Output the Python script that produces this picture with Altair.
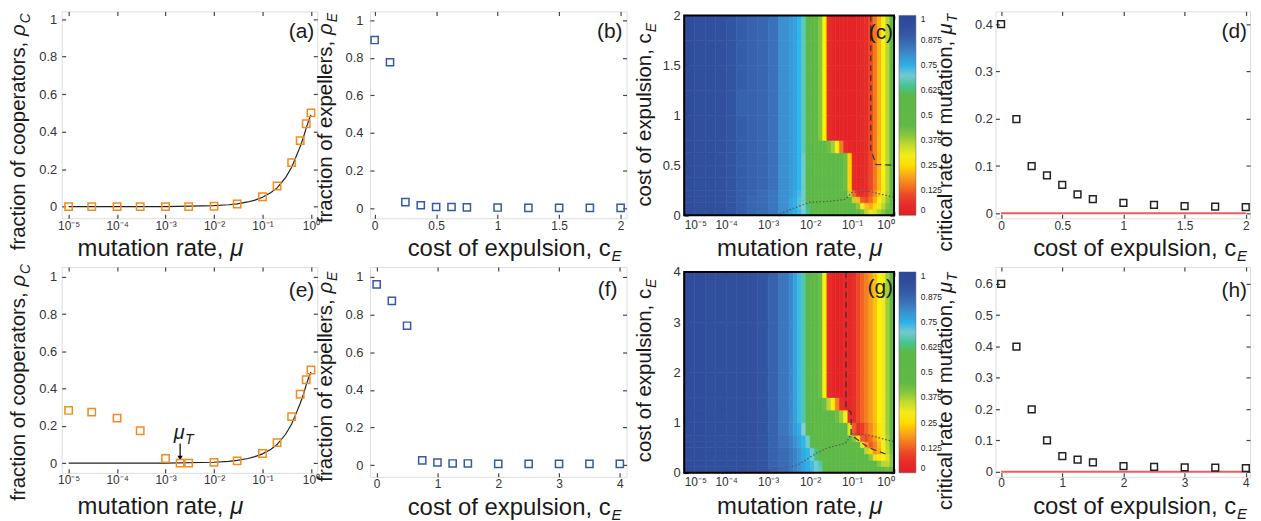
import altair as alt
import pandas as pd

FONT = "Liberation Sans"
ORANGE = "#f58a1f"
BLUE = "#3558a8"
BLACK = "#222222"
RED = "#ef5b5f"
TXT = "#1a1a1a"

# ---------------- data: panels (a) and (e) ----------------
MU_A = [1e-5, 3e-5, 1e-4, 3e-4, 1e-3, 3e-3, 1e-2, 3e-2, 0.1, 0.2, 0.4, 0.6, 0.8, 1.0]
RHO_A = [0.0, 0.0, 0.0, 0.0, 0.0, 0.0, 0.002, 0.014, 0.053, 0.11, 0.235, 0.352, 0.442, 0.5]
MU_E = [1e-5, 3e-5, 1e-4, 3e-4, 1e-3, 2e-3, 3e-3, 1e-2, 3e-2, 0.1, 0.2, 0.4, 0.6, 0.8, 1.0]
RHO_E = [0.283, 0.274, 0.242, 0.174, 0.025, 0.0, 0.0, 0.004, 0.012, 0.052, 0.11, 0.25, 0.37, 0.448, 0.5]
CURVE_MU = [1e-5, 1e-4, 1e-3, 1e-2, 2e-2, 3e-2, 5e-2, 7e-2, 0.1, 0.15, 0.2, 0.3, 0.4, 0.5, 0.6, 0.7, 0.8, 0.9, 1.0]
CURVE_RHO = [0.0, 0.0, 0.0005, 0.005, 0.01, 0.015, 0.025, 0.035, 0.05, 0.075, 0.1, 0.155, 0.21, 0.27, 0.32, 0.37, 0.42, 0.46, 0.49]
ANNOT_MU = [2e-3]
ANNOT_ARROW_Y0 = [0.105]
ANNOT_ARROW_Y1 = [0.03]
ANNOT_HEAD_Y = [0.027]
ANNOT_TEXT_Y = [0.13]

# ---------------- data: panels (b), (f), (d), (h) ----------------
CE_2 = [0, 0.125, 0.25, 0.375, 0.5, 0.625, 0.75, 1.0, 1.25, 1.5, 1.75, 2.0]
RHOE_B = [0.894, 0.776, 0.033, 0.016, 0.007, 0.007, 0.005, 0.004, 0.002, 0.002, 0.002, 0.002]
MUT_D = [0.4, 0.199, 0.1, 0.08, 0.06, 0.04, 0.03, 0.022, 0.018, 0.015, 0.014, 0.013]
CE_4 = [0, 0.25, 0.5, 0.75, 1.0, 1.25, 1.5, 2.0, 2.5, 3.0, 3.5, 4.0]
RHOE_F = [0.961, 0.873, 0.741, 0.025, 0.014, 0.009, 0.009, 0.007, 0.007, 0.007, 0.007, 0.007]
MUT_H = [0.6, 0.4, 0.199, 0.1, 0.05, 0.039, 0.03, 0.018, 0.016, 0.014, 0.013, 0.012]
ZERO_D_X = [0, 2]
ZERO_H_X = [0, 4]
ZERO_Y = [0, 0]

# ---------------- data: heat maps (c) and (g) ----------------
MU_EDGE_EXP = [-5, -4.75, -4.5, -4.25, -4, -3.75, -3.5, -3.25, -3, -2.75, -2.5,
               -2.4, -2.3, -2.2, -2.1, -2.0, -1.9, -1.8, -1.7, -1.6, -1.5, -1.4, -1.3,
               -1.2, -1.1, -1.0, -0.9, -0.8, -0.7, -0.6, -0.5, -0.4, -0.3, -0.2, -0.1, 0]
CE_EDGES_C = [0, 0.0625, 0.125, 0.1875, 0.25, 0.375, 0.5, 0.625, 0.75, 1.0, 1.25, 1.5, 1.75, 2.0]
HEAT_C = [  # percent, rows from c_E = 0 upward
    [95, 94, 93, 92, 91, 89, 87, 86, 84, 80, 77, 75, 73, 70, 65, 58, 54, 52, 50, 50, 49, 49, 49, 49, 50, 49, 46, 42, 36, 32, 33, 37, 40, 43, 46],
    [95, 94, 93, 92, 91, 89, 87, 86, 84, 80, 77, 75, 72, 69, 64, 58, 54, 52, 50, 49, 49, 48, 48, 48, 48, 46, 40, 30, 22, 20, 25, 31, 36, 41, 45],
    [95, 94, 93, 92, 91, 89, 87, 86, 84, 80, 77, 75, 72, 68, 62, 57, 53, 51, 50, 49, 48, 48, 47, 46, 45, 36, 22, 12, 10, 14, 20, 27, 33, 39, 44],
    [95, 94, 93, 92, 91, 89, 88, 86, 84, 80, 78, 76, 73, 68, 61, 56, 52, 50, 49, 48, 48, 47, 46, 45, 36, 14, 7, 6, 8, 12, 17, 23, 30, 37, 43],
    [95, 94, 93, 92, 91, 89, 88, 87, 85, 80, 78, 77, 74, 68, 61, 56, 52, 50, 49, 48, 47, 46, 45, 42, 24, 5, 3, 4, 6, 10, 15, 21, 28, 36, 43],
    [95, 94, 93, 92, 91, 89, 88, 87, 85, 80, 78, 77, 74, 68, 61, 56, 52, 50, 49, 48, 47, 46, 45, 42, 24, 5, 3, 4, 6, 10, 15, 21, 28, 36, 43],
    [95, 94, 93, 92, 91, 89, 88, 87, 85, 80, 78, 77, 74, 68, 61, 56, 52, 50, 49, 48, 47, 46, 45, 42, 24, 5, 3, 4, 6, 10, 15, 21, 28, 36, 43],
    [95, 94, 93, 92, 91, 89, 88, 87, 85, 80, 78, 77, 74, 67, 59, 54, 50, 48, 45, 42, 38, 28, 15, 6, 3, 2, 3, 4, 6, 10, 15, 21, 28, 36, 43],
    [95, 94, 93, 92, 91, 89, 88, 87, 85, 80, 78, 77, 74, 67, 58, 52, 47, 40, 27, 6, 3, 2, 2, 2, 2, 2, 3, 4, 6, 10, 15, 21, 28, 36, 43],
    [95, 94, 93, 92, 91, 88, 88, 87, 85, 80, 78, 77, 74, 67, 58, 52, 47, 40, 27, 6, 3, 2, 2, 2, 2, 2, 3, 4, 6, 10, 15, 21, 28, 36, 43],
    [95, 94, 93, 92, 91, 89, 88, 87, 85, 80, 78, 77, 74, 67, 58, 52, 47, 40, 27, 6, 3, 2, 2, 2, 2, 2, 3, 4, 6, 10, 15, 21, 28, 36, 43],
    [95, 94, 93, 92, 91, 89, 88, 87, 85, 80, 78, 77, 74, 67, 58, 52, 47, 40, 27, 6, 3, 2, 2, 2, 2, 2, 3, 4, 6, 10, 15, 21, 28, 36, 43],
    [95, 94, 93, 92, 91, 89, 88, 87, 85, 80, 78, 77, 74, 67, 58, 52, 47, 40, 27, 6, 3, 2, 2, 2, 2, 2, 3, 4, 6, 10, 15, 21, 28, 36, 43],
]
CE_EDGES_G = [0, 0.125, 0.25, 0.375, 0.5, 0.625, 0.75, 1.0, 1.25, 1.5, 2.0, 3.0, 4.0]
HEAT_G = [  # percent, rows from c_E = 0 upward
    [95, 95, 94, 94, 94, 93, 92, 91, 88, 86, 84, 82, 80, 77, 75, 73, 70, 67, 62, 55, 50, 48, 48, 48, 48, 48, 48, 48, 48, 48, 47, 46, 44, 42, 43],
    [95, 95, 94, 94, 94, 93, 92, 91, 88, 86, 84, 82, 80, 77, 75, 73, 70, 66, 60, 54, 50, 48, 48, 48, 48, 48, 48, 48, 48, 47, 45, 40, 36, 36, 40],
    [95, 95, 94, 94, 94, 93, 92, 91, 88, 86, 84, 82, 79, 76, 74, 70, 64, 57, 52, 49, 48, 48, 48, 48, 48, 48, 48, 47, 45, 40, 32, 26, 27, 33, 40],
    [95, 95, 94, 94, 94, 93, 92, 91, 88, 86, 84, 82, 79, 76, 74, 70, 64, 57, 52, 49, 48, 48, 48, 48, 48, 48, 47, 44, 36, 24, 18, 20, 28, 35, 42],
    [95, 95, 94, 94, 94, 93, 92, 91, 88, 85, 83, 80, 77, 74, 68, 60, 54, 50, 48, 47, 47, 47, 47, 47, 47, 47, 44, 32, 18, 12, 16, 22, 29, 36, 43],
    [95, 95, 94, 94, 94, 93, 92, 91, 88, 85, 83, 80, 77, 74, 68, 60, 54, 50, 48, 47, 47, 46, 46, 46, 46, 40, 25, 12, 10, 14, 19, 24, 30, 37, 44],
    [95, 95, 94, 94, 94, 93, 92, 91, 88, 84, 81, 78, 75, 69, 60, 53, 49, 47, 46, 46, 45, 45, 44, 43, 33, 12, 7, 9, 13, 17, 21, 26, 31, 38, 45],
    [95, 95, 94, 94, 94, 93, 92, 91, 88, 84, 81, 77, 73, 66, 58, 52, 48, 47, 46, 45, 44, 42, 38, 28, 8, 5, 10, 13, 16, 19, 22, 27, 31, 38, 45],
    [95, 95, 94, 94, 94, 93, 92, 91, 88, 84, 81, 77, 73, 66, 58, 52, 48, 44, 42, 36, 28, 16, 7, 3, 4, 7, 10, 13, 16, 19, 22, 27, 31, 38, 45],
    [95, 95, 94, 94, 94, 93, 92, 91, 88, 84, 81, 77, 73, 66, 58, 52, 48, 42, 28, 6, 3, 2, 2, 3, 4, 7, 10, 13, 16, 19, 22, 27, 31, 38, 45],
    [95, 95, 94, 94, 94, 93, 92, 91, 88, 84, 81, 77, 73, 66, 58, 52, 48, 42, 28, 6, 3, 2, 2, 3, 4, 7, 10, 13, 16, 19, 22, 27, 31, 38, 45],
    [95, 95, 94, 94, 94, 93, 92, 91, 88, 84, 81, 77, 73, 66, 58, 52, 48, 42, 28, 6, 3, 2, 2, 3, 4, 7, 10, 13, 16, 19, 22, 27, 31, 38, 45],
]
DASH_C_MU = [0.28, 0.28, 0.37, 1.0]
DASH_C_CE = [2.0, 0.66, 0.51, 0.5]
DOT_C_MU = [1.6e-3, 4e-3, 1e-2, 3e-2, 7e-2, 0.1, 0.25, 0.5, 1.0]
DOT_C_CE = [0.0, 0.07, 0.13, 0.14, 0.16, 0.23, 0.24, 0.21, 0.18]
DASH_G_MU = [0.072, 0.072, 0.095, 0.095, 0.25, 0.75]
DASH_G_CE = [4.0, 1.3, 1.2, 0.75, 0.5, 0.35]
DOT_G_MU = [1e-4, 1e-3, 5e-3, 1.4e-2, 2.5e-2, 7e-2, 0.1, 0.25, 1.0]
DOT_G_CE = [0.0, 0.05, 0.15, 0.39, 0.49, 0.59, 0.78, 0.75, 0.62]

CBAR_TICKS = [0, 0.125, 0.25, 0.375, 0.5, 0.625, 0.75, 0.875, 1]
CMAP_DOMAIN = [0, 0.08, 0.12, 0.17, 0.22, 0.27, 0.31, 0.37, 0.43, 0.62, 0.69, 0.74, 0.80, 0.86, 0.92, 1.0]
CMAP_RANGE = ["#e41f26", "#e8302a", "#ef5a24", "#f58a1f", "#fbbf12", "#fff200", "#eeea1e", "#b0d235",
              "#5fb946", "#5cb848", "#84cdd0", "#2db6e9", "#3c8fd0", "#3a6bb5", "#31519f", "#2c4798"]

LOG_TICKS = [1e-5, 1e-4, 1e-3, 1e-2, 1e-1, 1.0]
LOG_EXPR = "'10' + ['⁰','⁻¹','⁻²','⁻³','⁻⁴','⁻⁵'][round(-log(datum.value)/LN10)]"
X_2 = [0, 0.5, 1, 1.5, 2]
X_4 = [0, 1, 2, 3, 4]
Y_01 = [0, 0.2, 0.4, 0.6, 0.8, 1.0]
Y_04 = [0, 0.1, 0.2, 0.3, 0.4]
Y_06 = [0, 0.1, 0.2, 0.3, 0.4, 0.5, 0.6]

XT = 24      # x-title font size
YT = 20.5    # y-title font size


# ---------------- helpers ----------------
def axis(values, expr="'' + datum.value", offset=-4, pad=5, flush=False, tcolor="#444", twidth=1.2, size=13):
    return alt.Axis(values=values, labelExpr=expr, title=None, domain=False, grid=False,
                    ticks=True, tickSize=4, tickColor=tcolor, tickWidth=twidth, offset=offset,
                    labelPadding=pad, labelFont=FONT, labelFontSize=size, labelColor="#333",
                    labelFlush=flush, labelOverlap=False)


def xaxis(values, expr="'' + datum.value", pad=2, **kw):
    return axis(values, expr, pad=pad, size=12, **kw)


def mirror_axis(orient, values, offset=-4, tcolor="#444", twidth=1.2):
    return alt.Axis(orient=orient, values=values, labels=False, title=None, domain=False, grid=False,
                    ticks=True, tickSize=4, tickColor=tcolor, tickWidth=twidth, offset=offset)


def points(xs, ys, color, sx, sy, ax, ay, size=52, opacity=1):
    df = pd.DataFrame({"x": xs, "y": ys})
    return alt.Chart(df).mark_point(shape="square", filled=False, color=color, size=size,
                                    strokeWidth=1.5, opacity=opacity).encode(
        x=alt.X("x:Q", scale=sx, axis=ax),
        y=alt.Y("y:Q", scale=sy, axis=ay))


def line(xs, ys, color, width, sx, sy, dash=None):
    df = pd.DataFrame({"x": xs, "y": ys, "i": list(range(len(xs)))})
    kw = dict(color=color, strokeWidth=width)
    if dash:
        kw["strokeDash"] = dash
    return alt.Chart(df).mark_line(**kw).encode(
        x=alt.X("x:Q", scale=sx, axis=None),
        y=alt.Y("y:Q", scale=sy, axis=None),
        order="i:Q")


def text(t, x, y, size, align="left", angle=0, italic=False):
    return alt.Chart(pd.DataFrame({"t": [t]})).mark_text(
        align=align, baseline="alphabetic", angle=angle, font=FONT, fontSize=size,
        fontStyle="italic" if italic else "normal", color=TXT).encode(
        text="t:N", x=alt.value(x), y=alt.value(y))


def xtitle_mu(x, y):
    # "mutation rate," is 6.114 em wide in Arial metrics, plus one space (0.278 em)
    return [text("mutation rate,", x, y, XT), text("μ", x + 6.392 * XT, y, XT, italic=True)]


def xtitle_sub(t, sub, x, y):
    return [text(t, x, y, XT, align="right"), text(sub, x + 1, y + 5, 15, italic=True)]


def ytitle_sym(main, sym, sub, x, y):
    # symbol ends at y (reading upward); main text ends one space + one symbol lower
    return [text(main, x, y + 0.854 * YT, YT, align="right", angle=270),
            text(sym, x, y, YT, align="right", angle=270, italic=True),
            text(sub, x + 5, y - 1, 14, angle=270, italic=True)]


def ytitle_sub(t, sub, x, y):
    return [text(t, x, y, YT, align="right", angle=270),
            text(sub, x + 5, y - 1, 14, angle=270, italic=True)]


def plabel(t, x, y):
    return text(t, x, y, 21, align="right")


def spacer(w):
    return alt.Chart(pd.DataFrame({"t": [""]})).mark_text(fontSize=1).encode(
        text="t:N", x=alt.value(1), y=alt.value(100)).properties(
        width=w, height=1, view=alt.ViewBackground(stroke=None))


def scatter_panel(main, mirror, others, w, h):
    return alt.layer(*others, main, mirror).resolve_axis(x="independent", y="independent").properties(
        width=w, height=h)


def heat_table(grid, ce_edges):
    rows = []
    for i, row in enumerate(grid):
        for j, v in enumerate(row):
            rows.append({"x0": 10 ** MU_EDGE_EXP[j], "x1": 10 ** MU_EDGE_EXP[j + 1],
                         "y0": ce_edges[i], "y1": ce_edges[i + 1], "v": v / 100})
    return pd.DataFrame(rows)


def heat_panel(grid, ce_edges, ymax, yvals, yrange, xoff, topoff, legy, leglen, dash, dot, texts, w, h):
    sx = alt.Scale(type="log", domain=[1e-5, 1.0], nice=False)
    sy = alt.Scale(domain=[0, ymax], range=yrange, nice=False, zero=False)
    ax = xaxis(LOG_TICKS, LOG_EXPR, offset=xoff, pad=4, flush=True, tcolor="#000", twidth=1.5)
    ay = axis(yvals, pad=4, tcolor="#000", twidth=1.5)
    cmap = alt.Scale(domain=CMAP_DOMAIN, range=CMAP_RANGE)
    rect = alt.Chart(heat_table(grid, ce_edges)).mark_rect(strokeWidth=0.6).encode(
        x=alt.X("x0:Q", scale=sx, axis=ax),
        x2="x1:Q",
        y=alt.Y("y0:Q", scale=sy, axis=ay),
        y2="y1:Q",
        color=alt.Color("v:Q", scale=cmap, legend=alt.Legend(
            orient="none", legendX=216, legendY=legy, direction="vertical", title=None,
            gradientLength=leglen, gradientThickness=17, values=CBAR_TICKS,
            labelExpr="'' + datum.value", labelFont=FONT, labelFontSize=8.5, labelColor="#222",
            labelOffset=5, labelOverlap=False, gradientStrokeColor="#555", gradientStrokeWidth=0.5,
            padding=0)),
        stroke=alt.Stroke("v:Q", scale=cmap, legend=None))
    dl = line(dash[0], dash[1], "#333", 1.2, sx, sy, dash=[6, 4])
    ol = line(dot[0], dot[1], "#555", 1.2, sx, sy, dash=[1.5, 2])
    frame_df = pd.DataFrame({"x": [1e-5], "x1": [1.0], "y": [0], "y1": [ymax]})
    frame = alt.Chart(frame_df).mark_rect(filled=False, stroke="black", strokeWidth=2).encode(
        x=alt.X("x:Q", scale=sx, axis=mirror_axis("top", LOG_TICKS, offset=topoff, tcolor="#000", twidth=1.5)),
        x2="x1:Q",
        y=alt.Y("y:Q", scale=sy, axis=mirror_axis("right", yvals, tcolor="#000", twidth=1.5)),
        y2="y1:Q")
    return alt.layer(rect, dl, ol, frame, *texts).resolve_axis(x="independent", y="independent").properties(
        width=w, height=h, view=alt.ViewBackground(stroke=None))


# ---------------- panels ----------------
# (a)
xs_a = alt.Scale(type="log", domain=[7.2e-6, 1.35], nice=False)
ys_a = alt.Scale(domain=[-0.062, 1.041], nice=False, zero=False)
pa = scatter_panel(
    points(MU_A, RHO_A, ORANGE, xs_a, ys_a, xaxis(LOG_TICKS, LOG_EXPR), axis(Y_01, pad=5), size=55),
    points(MU_A, RHO_A, ORANGE, xs_a, ys_a, mirror_axis("top", LOG_TICKS), mirror_axis("right", Y_01), opacity=0),
    [line(CURVE_MU, CURVE_RHO, BLACK, 1.2, xs_a, ys_a),
     *xtitle_mu(16, 246),
     *ytitle_sym("fraction of cooperators,", "ρ", "C", -37, 13),
     plabel("(a)", 254, 27)], 257, 208)

# (b)
xs_b = alt.Scale(domain=[-0.038, 2.048], nice=False, zero=False)
ys_b = alt.Scale(domain=[-0.053, 1.046], nice=False, zero=False)
pb = scatter_panel(
    points(CE_2, RHOE_B, BLUE, xs_b, ys_b, xaxis(X_2), axis(Y_01, pad=7)),
    points(CE_2, RHOE_B, BLUE, xs_b, ys_b, mirror_axis("top", X_2), mirror_axis("right", Y_01), opacity=0),
    [*xtitle_sub("cost of expulsion, c", "E", 242, 246),
     *ytitle_sym("fraction of expellers,", "ρ", "E", -38, 12),
     plabel("(b)", 254, 27)], 258, 208)

# (c)
pc = heat_panel(HEAT_C, CE_EDGES_C, 2.0, [0, 0.5, 1, 1.5, 2], [205, 4], -7, -8, 4, 201,
                (DASH_C_MU, DASH_C_CE), (DOT_C_MU, DOT_C_CE),
                [*xtitle_mu(33, 246),
                 *ytitle_sub("cost of expulsion, c", "E", -33, 22),
                 plabel("(c)", 210, 28)], 211, 208)

# (d)
xs_d = alt.Scale(domain=[-0.046, 2.035], nice=False, zero=False)
ys_d = alt.Scale(domain=[-0.0105, 0.427], nice=False, zero=False)
pd_ = scatter_panel(
    points(CE_2, MUT_D, BLACK, xs_d, ys_d, xaxis(X_2), axis(Y_04, pad=3), size=46),
    points(CE_2, MUT_D, BLACK, xs_d, ys_d, mirror_axis("top", X_2), mirror_axis("right", Y_04), opacity=0),
    [line(ZERO_D_X, ZERO_Y, RED, 2, xs_d, ys_d),
     *xtitle_sub("cost of expulsion, c", "E", 242, 246),
     *ytitle_sym("critical rate of mutation,", "μ", "T", -44, 12),
     plabel("(d)", 253, 27)], 256, 208)

# (e)
ys_e = alt.Scale(domain=[-0.052, 1.053], nice=False, zero=False)
annot_df = pd.DataFrame({"x": ANNOT_MU, "y": ANNOT_ARROW_Y0, "y1": ANNOT_ARROW_Y1,
                         "yh": ANNOT_HEAD_Y, "yt": ANNOT_TEXT_Y})
arrow = alt.Chart(annot_df).mark_rule(color="black", strokeWidth=1.2).encode(
    x=alt.X("x:Q", scale=xs_a, axis=None), y=alt.Y("y:Q", scale=ys_e, axis=None), y2="y1:Q")
head = alt.Chart(annot_df).mark_point(shape="triangle-down", filled=True, color="black", size=28, opacity=1).encode(
    x=alt.X("x:Q", scale=xs_a, axis=None), y=alt.Y("yh:Q", scale=ys_e, axis=None))
mu_t = alt.Chart(annot_df).mark_text(text="μ", font=FONT, fontSize=20, fontStyle="italic",
                                     align="center", baseline="alphabetic", dx=-1, color=TXT).encode(
    x=alt.X("x:Q", scale=xs_a, axis=None), y=alt.Y("yt:Q", scale=ys_e, axis=None))
mu_sub = alt.Chart(annot_df).mark_text(text="T", font=FONT, fontSize=14, fontStyle="italic",
                                       align="left", baseline="alphabetic", dx=5, dy=5, color=TXT).encode(
    x=alt.X("x:Q", scale=xs_a, axis=None), y=alt.Y("yt:Q", scale=ys_e, axis=None))
pe = scatter_panel(
    points(MU_E, RHO_E, ORANGE, xs_a, ys_e, xaxis(LOG_TICKS, LOG_EXPR), axis(Y_01, pad=5), size=55),
    points(MU_E, RHO_E, ORANGE, xs_a, ys_e, mirror_axis("top", LOG_TICKS), mirror_axis("right", Y_01), opacity=0),
    [line(CURVE_MU, CURVE_RHO, BLACK, 1.2, xs_a, ys_e),
     arrow, head, mu_t, mu_sub,
     *xtitle_mu(16, 248),
     *ytitle_sym("fraction of cooperators,", "ρ", "C", -37, 8),
     plabel("(e)", 254, 30)], 257, 207)

# (f)
xs_f = alt.Scale(domain=[-0.11, 4.11], nice=False, zero=False)
ys_f = alt.Scale(domain=[-0.062, 1.053], nice=False, zero=False)
pf = scatter_panel(
    points(CE_4, RHOE_F, BLUE, xs_f, ys_f, xaxis(X_4), axis(Y_01, pad=7)),
    points(CE_4, RHOE_F, BLUE, xs_f, ys_f, mirror_axis("top", X_4), mirror_axis("right", Y_01), opacity=0),
    [*xtitle_sub("cost of expulsion, c", "E", 242, 249),
     *ytitle_sym("fraction of expellers,", "ρ", "E", -38, 15),
     plabel("(f)", 249, 29)], 258, 211)

# (g)
pg = heat_panel(HEAT_G, CE_EDGES_G, 4.0, [0, 1, 2, 3, 4], [207, 5], -8, -9, 5, 202,
                (DASH_G_MU, DASH_G_CE), (DOT_G_MU, DOT_G_CE),
                [*xtitle_mu(33, 248),
                 *ytitle_sub("cost of expulsion, c", "E", -33, 22),
                 plabel("(g)", 210, 27)], 211, 211)

# (h)
xs_h = alt.Scale(domain=[-0.093, 4.068], nice=False, zero=False)
ys_h = alt.Scale(domain=[-0.016, 0.654], nice=False, zero=False)
ph = scatter_panel(
    points(CE_4, MUT_H, BLACK, xs_h, ys_h, xaxis(X_4, pad=1), axis(Y_06, pad=3), size=46),
    points(CE_4, MUT_H, BLACK, xs_h, ys_h, mirror_axis("top", X_4), mirror_axis("right", Y_06), opacity=0),
    [line(ZERO_H_X, ZERO_Y, RED, 2, xs_h, ys_h),
     *xtitle_sub("cost of expulsion, c", "E", 242, 248),
     *ytitle_sym("critical rate of mutation,", "μ", "T", -44, 15),
     plabel("(h)", 253, 30)], 256, 211)

cells = [pa, spacer(53), pb, spacer(58), pc, spacer(102), pd_,
         pe, spacer(53), pf, spacer(58), pg, spacer(102), ph]

chart = alt.concat(*cells, columns=7, spacing={"row": 49, "column": 0}, bounds="flush").resolve_scale(
    color="independent").properties(
    padding={"left": 0, "top": 0, "right": 0, "bottom": 0}).configure_view(
    stroke="#707070", strokeWidth=1.5).configure(font=FONT)

chart.save("out.html", embed_options={"renderer": "svg", "actions": False})
